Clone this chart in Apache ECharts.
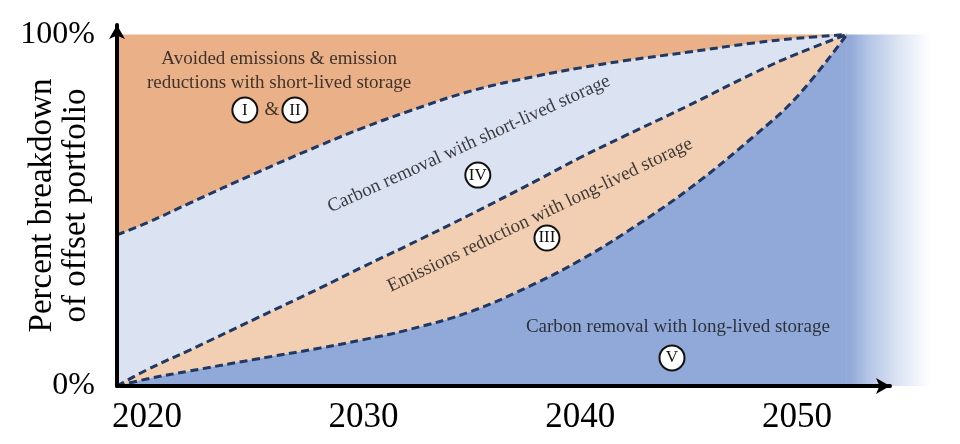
<!DOCTYPE html>
<html><head><meta charset="utf-8">
<script src="https://cdn.jsdelivr.net/npm/echarts@6/dist/echarts.min.js"></script>
<style>html,body{margin:0;padding:0;background:#fff}#c{width:960px;height:444px}</style>
</head><body><div id="c"></div>
<script>
// ---- data (percent share of the offset portfolio) ----
const years          = [2018.62, 2020, 2022, 2025, 2028, 2030, 2032, 2035, 2038, 2040, 2042, 2045, 2048, 2050, 2052.3];
const longRemoval    = [0, 2.0, 4.3, 7.6, 10.8, 13.2, 15.9, 21.3, 29.4, 35.8, 43.3, 56.0, 71.0, 82.3, 100];    // V
const longReduction  = [0, 2.6, 6.0, 11.5, 17.1, 20.8, 24.0, 27.7, 29.1, 29.2, 27.7, 23.8, 18.0, 12.2, 0];     // III
const shortRemoval   = [43.0, 41.8, 41.8, 41.4, 40.6, 39.5, 38.1, 35.0, 29.7, 25.5, 21.5, 15.2, 8.6, 4.4, 0];  // IV
const avoided        = [57.0, 53.6, 47.9, 39.5, 31.5, 26.5, 22.0, 16.0, 11.8, 9.5, 7.5, 5.0, 2.4, 1.1, 0];     // I & II
const fadeYears      = [2052.3, 2056.2];
const fadeValues     = [100, 100];
const xTicks         = [2020, 2030, 2040, 2050];
const yTicks         = [0, 100];

// ---- annotations ----
const textNotes = [
  {text: 'Avoided emissions & emission\nreductions with short-lived storage', x: 2026.1, y: 89.6, rotate: 0},
  {text: 'Carbon removal with short-lived storage', x: 2034.86, y: 68.8, rotate: 24.5},
  {text: 'Emissions reduction with long-lived storage', x: 2038.14, y: 48.6, rotate: 25.5},
  {text: 'Carbon removal with long-lived storage', x: 2044.5, y: 16.8, rotate: 0},
  {text: '&', x: 2025.77, y: 78.5, rotate: 0}
];
const circleNotes = [
  {text: 'I', x: 2024.52, y: 78.5},
  {text: 'II', x: 2026.83, y: 78.5},
  {text: 'IV', x: 2035.27, y: 60.0},
  {text: 'III', x: 2038.46, y: 42.1},
  {text: 'V', x: 2044.23, y: 8.0}
];

const FONT = '"Liberation Serif", "DejaVu Serif", serif';
const cum = (...arrs) => years.map((y, i) => [y, +arrs.reduce((s, a) => s + a[i], 0).toFixed(2)]);
const levelV   = cum(longRemoval);
const levelIII = cum(longRemoval, longReduction);
const levelIV  = cum(longRemoval, longReduction, shortRemoval);
const levelI   = cum(longRemoval, longReduction, shortRemoval, avoided);

const SMOOTH = 0.4;
const areaSeries = (name, data, color) => ({
  name, type: 'line', data, smooth: SMOOTH, symbol: 'none', xAxisIndex: 0, yAxisIndex: 0,
  lineStyle: {width: 0}, areaStyle: {color, opacity: 1}, z: 2
});
const dashLine = (name, data) => ({
  name, type: 'line', data, smooth: SMOOTH, symbol: 'none', z: 4, xAxisIndex: 0, yAxisIndex: 0,
  lineStyle: {color: '#1f3864', width: 3, type: [8, 4.5]}
});

const YMAX = 102.7;
const chart = echarts.init(document.getElementById('c'), null, {renderer: 'canvas'});
chart.setOption({
  animation: false,
  backgroundColor: '#ffffff',
  grid: [
    {left: 117, right: 28.6, top: 25, bottom: 58, containLabel: false, outerBoundsMode: 'none'},
    {left: 117, right: 70, top: 25, bottom: 58, containLabel: false, outerBoundsMode: 'none'}
  ],
  xAxis: [
    {type: 'value', gridIndex: 0, min: 2018.62, max: 2056.2, show: false},
    {
      type: 'value', gridIndex: 1, min: 2018.62, max: 2054.29, z: 10,
      axisLine: {show: true, lineStyle: {color: '#000', width: 4}, symbol: ['none', 'arrow'], symbolSize: [12, 14]},
      axisTick: {show: false}, splitLine: {show: false},
      axisLabel: {customValues: xTicks, formatter: v => String(v), color: '#000', fontFamily: FONT, fontSize: 35, margin: 14}
    }
  ],
  yAxis: [
    {type: 'value', gridIndex: 0, min: 0, max: YMAX, show: false},
    {
      type: 'value', gridIndex: 1, min: 0, max: YMAX, z: 10,
      name: 'Percent breakdown\nof offset portfolio', nameLocation: 'middle', nameGap: 24, nameRotate: 90,
      nameMoveOverlap: false,
      nameTextStyle: {color: '#000', fontFamily: FONT, fontSize: 33, lineHeight: 34},
      axisLine: {show: true, lineStyle: {color: '#000', width: 4}, symbol: ['none', 'arrow'], symbolSize: [12, 14]},
      axisTick: {show: false}, splitLine: {show: false},
      axisLabel: {customValues: yTicks, formatter: v => v + '%', color: '#000', fontFamily: FONT, fontSize: 32, margin: 22}
    }
  ],
  series: [
    areaSeries('Avoided emissions & emission reductions with short-lived storage', levelI, '#eab088'),
    areaSeries('Carbon removal with short-lived storage', levelIV, '#dbe2f2'),
    areaSeries('Emissions reduction with long-lived storage', levelIII, '#f2cfb3'),
    areaSeries('Carbon removal with long-lived storage', levelV, '#91a9d8'),
    {
      name: 'fade', type: 'line', data: fadeYears.map((y, i) => [y, fadeValues[i]]), symbol: 'none',
      xAxisIndex: 0, yAxisIndex: 0, lineStyle: {width: 0}, z: 2,
      areaStyle: {opacity: 1, color: new echarts.graphic.LinearGradient(0, 0, 1, 0, [
        {offset: 0, color: '#91a9d8'}, {offset: 0.05, color: '#93aad8'},
        {offset: 0.25, color: '#b3c4e6'}, {offset: 0.6, color: '#dce4f3'}, {offset: 1, color: '#ffffff'}
      ])}
    },
    dashLine('boundary V/III', levelV),
    dashLine('boundary III/IV', levelIII),
    dashLine('boundary IV/I', levelIV),
    {
      name: 'text', type: 'scatter', symbolSize: 0, z: 6, silent: true, xAxisIndex: 0, yAxisIndex: 0,
      data: textNotes.map(n => ({value: [n.x, n.y], label: {formatter: n.text, rotate: n.rotate}})),
      label: {show: true, position: 'inside', color: '#111', fontFamily: FONT, fontSize: 19, lineHeight: 24, align: 'center', verticalAlign: 'middle'}
    },
    {
      name: 'circles', type: 'scatter', symbol: 'circle', symbolSize: 25, z: 6, silent: true, xAxisIndex: 0, yAxisIndex: 0,
      itemStyle: {color: '#ffffff', borderColor: '#111', borderWidth: 2, opacity: 1},
      data: circleNotes.map(n => ({value: [n.x, n.y], label: {formatter: n.text}})),
      label: {show: true, position: 'inside', color: '#111', fontFamily: FONT, fontSize: 17}
    }
  ]
});
</script>
</body></html>
